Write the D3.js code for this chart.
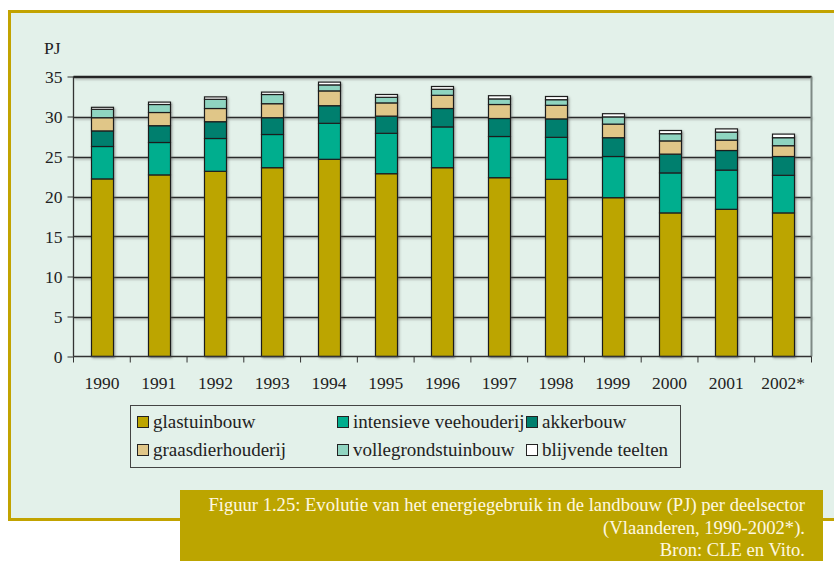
<!DOCTYPE html>
<html>
<head>
<meta charset="utf-8">
<script src="https://cdn.jsdelivr.net/npm/d3@7"></script>
<style>
  body { margin: 0; background: #fff; }
  svg { display: block; }
</style>
</head>
<body>
<svg id="viz"></svg>
<script>
// data (PJ)
const years = ['1990','1991','1992','1993','1994','1995','1996','1997','1998','1999','2000','2001','2002*'];
const glastuinbouw   = [22.2, 22.7, 23.15, 23.6, 24.65, 22.85, 23.6, 22.35, 22.15, 19.85, 17.95, 18.4, 17.95];
const intensieve     = [4.05, 4.05, 4.1, 4.15, 4.5, 5.05, 5.1, 5.15, 5.25, 5.15, 5.0, 4.9, 4.7];
const akkerbouw      = [1.95, 2.1, 2.1, 2.1, 2.2, 2.15, 2.3, 2.25, 2.3, 2.35, 2.35, 2.45, 2.35];
const graasdier      = [1.65, 1.65, 1.65, 1.75, 1.85, 1.65, 1.65, 1.75, 1.7, 1.7, 1.65, 1.3, 1.35];
const vollegrond     = [1.05, 1.0, 1.15, 1.15, 0.75, 0.7, 0.75, 0.7, 0.7, 0.9, 0.9, 1.0, 1.0];
const blijvende      = [0.25, 0.3, 0.3, 0.3, 0.35, 0.35, 0.35, 0.4, 0.4, 0.4, 0.4, 0.4, 0.45];
const seriesNames = ['glastuinbouw','intensieve veehouderij','akkerbouw','graasdierhouderij','vollegrondstuinbouw','blijvende teelten'];
const seriesColors = ['#bca500','#00ae8e','#007f6e','#e0c688','#8fd4c0','#ffffff'];
const yTicks = [0, 5, 10, 15, 20, 25, 30, 35];
const captionLines = ['Figuur 1.25: Evolutie van het energiegebruik in de landbouw (PJ) per deelsector',
                      '(Vlaanderen, 1990-2002*).', 'Bron: CLE en Vito.'];

const W = 834, H = 561;
const svg = d3.select('#viz').attr('width', W).attr('height', H);
const font = '"Liberation Serif", "DejaVu Serif", serif';

// panel
svg.append('rect').attr('x', 0).attr('y', 0).attr('width', W).attr('height', H).attr('fill', '#fff');
svg.append('rect').attr('x', 9.5).attr('y', 11.5).attr('width', W).attr('height', 508)
  .attr('fill', '#e3f1ea').attr('stroke', '#c2a300').attr('stroke-width', 3);

const defs = svg.append('defs');
defs.append('filter').attr('id', 'shadow').attr('x', '-20%').attr('y', '-20%').attr('width', '140%').attr('height', '140%')
  .append('feDropShadow').attr('dx', 1.2).attr('dy', 1.2).attr('stdDeviation', 0.8)
  .attr('flood-color', '#555').attr('flood-opacity', 0.55);

const m = { left: 73.5, right: 811.5, top: 76.5, bottom: 356.5 };

const x = d3.scaleBand().domain(years).range([m.left, m.right]).paddingInner(0.61).paddingOuter(0.305);
const y = d3.scaleLinear().domain([0, 35]).range([m.bottom, m.top]);

// gridlines
const grid = svg.append('g').attr('filter', 'url(#shadow)');
grid.selectAll('line').data(yTicks.filter(d => d > 0)).join('line')
  .attr('x1', m.left).attr('x2', m.right)
  .attr('y1', d => Math.round(y(d)) + 0.5).attr('y2', d => Math.round(y(d)) + 0.5)
  .attr('stroke', '#2a2a2a').attr('stroke-width', 1.3);
svg.append('line').attr('x1', m.right).attr('x2', m.right).attr('y1', m.top).attr('y2', m.bottom)
  .attr('stroke', '#7f8a85').attr('stroke-width', 2);

// stacked bars
const rows = years.map((yr, i) => ({
  year: yr,
  'glastuinbouw': glastuinbouw[i],
  'intensieve veehouderij': intensieve[i],
  'akkerbouw': akkerbouw[i],
  'graasdierhouderij': graasdier[i],
  'vollegrondstuinbouw': vollegrond[i],
  'blijvende teelten': blijvende[i]
}));
const stacked = d3.stack().keys(seriesNames)(rows);
const color = d3.scaleOrdinal().domain(seriesNames).range(seriesColors);

const bars = svg.append('g').attr('filter', 'url(#shadow)');
bars.selectAll('g').data(stacked).join('g')
  .attr('fill', d => color(d.key))
  .selectAll('rect').data(d => d).join('rect')
  .attr('x', d => Math.round(x(d.data.year)) + 0.5)
  .attr('width', Math.round(x.bandwidth()))
  .attr('y', d => y(d[1]))
  .attr('height', d => y(d[0]) - y(d[1]))
  .attr('stroke', '#1e1e1e').attr('stroke-width', 1.2);

// axes
const yAxis = svg.append('g').attr('transform', `translate(${m.left},0)`)
  .call(d3.axisLeft(y).tickValues(yTicks).tickSize(6).tickPadding(5));
const xAxis = svg.append('g').attr('transform', `translate(0,${m.bottom})`)
  .call(d3.axisBottom(x).tickSize(0).tickPadding(20));
[yAxis, xAxis].forEach(g => {
  g.attr('font-family', font);
  g.selectAll('text').style('font-family', font).attr('font-size', 17.5).attr('fill', '#222');
  g.selectAll('line').attr('stroke', '#333');
  g.select('.domain').attr('stroke', '#333').attr('stroke-width', 1.3);
});
yAxis.select('.domain').attr('d', `M0,${m.top}V${m.bottom}`);
xAxis.select('.domain').attr('d', `M${m.left},0H${m.right}`);
// x ticks at band boundaries
xAxis.selectAll('.bound').data(d3.range(years.length + 1)).join('line')
  .attr('x1', i => m.left + i * x.step()).attr('x2', i => m.left + i * x.step())
  .attr('y1', 0).attr('y2', 6).attr('stroke', '#333');
svg.append('line').attr('x1', m.left).attr('x2', m.right).attr('y1', m.top).attr('y2', m.top)
  .attr('stroke', '#222').attr('stroke-width', 1.3);

svg.append('text').attr('x', 44).attr('y', 54).text('PJ')
  .style('font-family', font).attr('font-size', 17.5).attr('fill', '#222');

// legend
const lg = svg.append('g');
lg.append('rect').attr('x', 130.5).attr('y', 405.5).attr('width', 550).attr('height', 62)
  .attr('fill', 'none').attr('stroke', '#444').attr('stroke-width', 1);
const legX = [137, 337, 526];
const legY = [422, 450];
seriesNames.forEach((name, i) => {
  const cx = legX[i % 3], cy = legY[Math.floor(i / 3)];
  lg.append('rect').attr('x', cx + 0.5).attr('y', cy - 5.5).attr('width', 11).attr('height', 11)
    .attr('fill', color(name)).attr('stroke', '#222').attr('stroke-width', 1);
  lg.append('text').attr('x', cx + 16).attr('y', cy + 6).text(name)
    .style('font-family', font).attr('font-size', 19).attr('fill', '#222');
});

// caption
svg.append('rect').attr('x', 180).attr('y', 490).attr('width', 643).attr('height', 71).attr('fill', '#bca500');
svg.selectAll('.cap').data(captionLines).join('text')
  .attr('x', 805).attr('y', (d, i) => 511 + i * 22.5).attr('text-anchor', 'end').text(d => d)
  .style('font-family', font).attr('font-size', 18.6).attr('fill', '#fff8e0');
</script>
</body>
</html>
